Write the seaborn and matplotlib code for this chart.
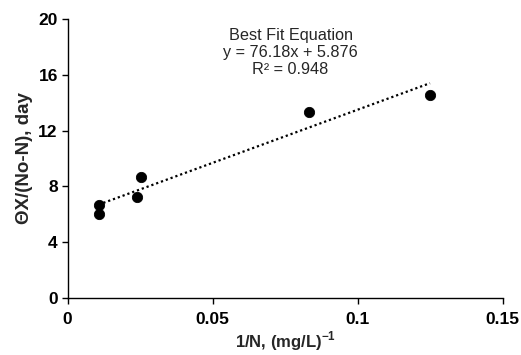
import matplotlib
matplotlib.use("Agg")
import matplotlib.pyplot as plt
import seaborn as sns
import numpy as np
import pandas as pd

# data
inv_n = [0.0107, 0.0110, 0.0240, 0.0252, 0.0834, 0.1250]
theta_x = [6.00, 6.64, 7.24, 8.66, 13.36, 14.55]
slope = 76.18
intercept = 5.876
r2 = 0.948

x_ticks = [0, 0.05, 0.1, 0.15]
x_tick_labels = ["0", "0.05", "0.1", "0.15"]
y_ticks = [0, 4, 8, 12, 16, 20]

df = pd.DataFrame({"x": inv_n, "y": theta_x})
fit_x = np.array([min(inv_n), max(inv_n)])
fit = pd.DataFrame({"x": fit_x, "y": slope * fit_x + intercept})

sns.set_style("white")
plt.rcParams["font.family"] = ["Liberation Sans", "DejaVu Sans"]
plt.rcParams["mathtext.fontset"] = "custom"
plt.rcParams["mathtext.bf"] = "Liberation Sans:bold"
plt.rcParams["mathtext.rm"] = "Liberation Sans"

fig, ax = plt.subplots(figsize=(5.21, 3.55), dpi=100)
fig.subplots_adjust(left=0.1296, right=0.9645, bottom=0.1606, top=0.9465)

sns.lineplot(data=fit, x="x", y="y", ax=ax, color="black", linestyle=(0, (1, 1.3)),
             linewidth=1.6)
sns.scatterplot(data=df, x="x", y="y", ax=ax, color="black", s=55, edgecolor="black",
                zorder=3)

ax.set_xlim(0, 0.15)
ax.set_ylim(0, 20)
ax.set_xticks(x_ticks)
ax.set_xticklabels(x_tick_labels)
ax.set_yticks(y_ticks)
ax.tick_params(axis="both", labelsize=12.5, direction="out", length=4, width=1,
               colors="black", bottom=True, left=True)
ax.tick_params(axis="x", pad=6)
ax.tick_params(axis="y", pad=3)
for lbl in ax.get_xticklabels() + ax.get_yticklabels():
    lbl.set_fontweight("bold")

ax.set_xlabel(r"1/N, (mg/L)$^{\mathbf{-1}}$", fontsize=12, fontweight="bold", labelpad=2)
ax.set_ylabel("ΘX/(No-N), day", fontsize=13.5, fontweight="bold", labelpad=4)

sns.despine(ax=ax)
for s in ["left", "bottom"]:
    ax.spines[s].set_color("black")
    ax.spines[s].set_linewidth(1)

ax.text(0.0769, 17.6, f"Best Fit Equation\ny = {slope}x + {intercept}\nR² = {r2}",
        ha="center", va="center", fontsize=11.7, linespacing=1.15)

fig.savefig("out.png", dpi=100)
